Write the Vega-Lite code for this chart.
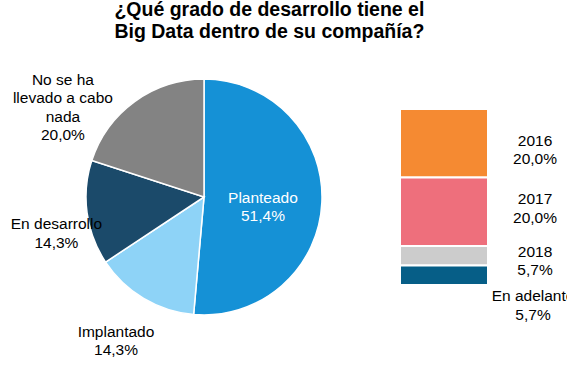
{
  "$schema": "https://vega.github.io/schema/vega-lite/v6.json",
  "padding": 0,
  "spacing": 0,
  "config": {"view": {"stroke": null}, "font": "Liberation Sans", "concat": {"spacing": 0}},
  "title": {
    "text": ["¿Qué grado de desarrollo tiene el", "Big Data dentro de su compañía?"],
    "fontSize": 19.5,
    "fontWeight": "bold",
    "color": "#000000",
    "anchor": "middle",
    "dx": -18,
    "offset": 3
  },
  "hconcat": [
    {
      "width": 390,
      "height": 304,
      "data": {"values": [
        {"cat": "Planteado", "pct": 51.4, "orden": 1, "etiqueta": "Planteado\n51,4%"},
        {"cat": "Implantado", "pct": 14.3, "orden": 2, "etiqueta": "Implantado\n14,3%"},
        {"cat": "En desarrollo", "pct": 14.3, "orden": 3, "etiqueta": "En desarrollo\n14,3%"},
        {"cat": "No se ha llevado a cabo nada", "pct": 20.0, "orden": 4, "etiqueta": "No se ha\nllevado a cabo\nnada\n20,0%"}
      ]},
      "encoding": {
        "theta": {"field": "pct", "type": "quantitative", "stack": true},
        "order": {"field": "orden", "type": "quantitative"}
      },
      "layer": [
        {
          "mark": {"type": "arc", "radius": 118, "stroke": "white", "strokeWidth": 1.5},
          "encoding": {
            "color": {
              "field": "cat",
              "type": "nominal",
              "scale": {
                "domain": ["Planteado", "Implantado", "En desarrollo", "No se ha llevado a cabo nada", "2016", "2017", "2018", "En adelante"],
                "range": ["#1591D6", "#8ED3F7", "#1B4A6A", "#838383", "#F58A32", "#EE6F7C", "#CCCCCC", "#065E87"]
              },
              "legend": null
            }
          }
        },
        {
          "mark": {"type": "text", "radius": 59, "dy": -2, "color": "white", "fontSize": 15.5, "lineBreak": "\n", "lineHeight": 18.5, "baseline": "middle", "align": "center"},
          "encoding": {
            "text": {"condition": {"test": "datum.cat === 'Planteado'", "field": "etiqueta"}, "value": ""}
          }
        },
        {
          "mark": {"type": "text", "radius": 155, "dx": -8.7, "dy": 1.8, "color": "black", "fontSize": 15.5, "lineBreak": "\n", "lineHeight": 18.5, "baseline": "middle", "align": "center"},
          "encoding": {
            "text": {"condition": {"test": "datum.cat === 'Implantado'", "field": "etiqueta"}, "value": ""}
          }
        },
        {
          "mark": {"type": "text", "radius": 155, "dx": 6, "dy": 6.2, "color": "black", "fontSize": 15.5, "lineBreak": "\n", "lineHeight": 18.5, "baseline": "middle", "align": "center"},
          "encoding": {
            "text": {"condition": {"test": "datum.cat === 'En desarrollo'", "field": "etiqueta"}, "value": ""}
          }
        },
        {
          "mark": {"type": "text", "radius": 155, "dx": -50, "dy": 8, "color": "black", "fontSize": 15.5, "lineBreak": "\n", "lineHeight": 18.5, "baseline": "middle", "align": "center"},
          "encoding": {
            "text": {"condition": {"test": "datum.cat === 'No se ha llevado a cabo nada'", "field": "etiqueta"}, "value": ""}
          }
        }
      ]
    },
    {
      "width": 88,
      "height": 304,
      "data": {"values": [
        {"padre": "Planteado", "anio": "2016", "pct": 20.0, "orden": 4, "etiqueta": "2016\n20,0%"},
        {"padre": "Planteado", "anio": "2017", "pct": 20.0, "orden": 3, "etiqueta": "2017\n20,0%"},
        {"padre": "Planteado", "anio": "2018", "pct": 5.7, "orden": 2, "etiqueta": "2018\n5,7%"},
        {"padre": "Planteado", "anio": "En adelante", "pct": 5.7, "orden": 1, "etiqueta": "En adelante\n5,7%"}
      ]},
      "encoding": {
        "x": {"field": "padre", "type": "nominal", "scale": {"paddingInner": 0, "paddingOuter": 0}, "axis": null},
        "y": {"field": "pct", "type": "quantitative", "stack": "zero", "scale": {"domain": [-18.69, 70.09], "nice": false, "zero": false}, "axis": null},
        "order": {"field": "orden", "type": "quantitative"}
      },
      "layer": [
        {
          "mark": {"type": "bar", "stroke": "white", "strokeWidth": 2},
          "encoding": {
            "color": {
              "field": "anio",
              "type": "nominal",
              "scale": {
                "domain": ["Planteado", "Implantado", "En desarrollo", "No se ha llevado a cabo nada", "2016", "2017", "2018", "En adelante"],
                "range": ["#1591D6", "#8ED3F7", "#1B4A6A", "#838383", "#F58A32", "#EE6F7C", "#CCCCCC", "#065E87"]
              },
              "legend": null
            }
          }
        },
        {
          "mark": {"type": "text", "color": "black", "fontSize": 15.5, "lineBreak": "\n", "lineHeight": 18.5, "baseline": "middle", "align": "center", "dx": 47, "dy": 32},
          "encoding": {
            "x": {"field": "padre", "type": "nominal", "bandPosition": 1},
            "detail": {"field": "anio", "type": "nominal"},
            "text": {"condition": {"test": "datum.anio === '2016'", "field": "etiqueta"}, "value": ""}
          }
        },
        {
          "mark": {"type": "text", "color": "black", "fontSize": 15.5, "lineBreak": "\n", "lineHeight": 18.5, "baseline": "middle", "align": "center", "dx": 47, "dy": 22},
          "encoding": {
            "x": {"field": "padre", "type": "nominal", "bandPosition": 1},
            "detail": {"field": "anio", "type": "nominal"},
            "text": {"condition": {"test": "datum.anio === '2017'", "field": "etiqueta"}, "value": ""}
          }
        },
        {
          "mark": {"type": "text", "color": "black", "fontSize": 15.5, "lineBreak": "\n", "lineHeight": 18.5, "baseline": "middle", "align": "center", "dx": 47, "dy": 6},
          "encoding": {
            "x": {"field": "padre", "type": "nominal", "bandPosition": 1},
            "detail": {"field": "anio", "type": "nominal"},
            "text": {"condition": {"test": "datum.anio === '2018'", "field": "etiqueta"}, "value": ""}
          }
        },
        {
          "mark": {"type": "text", "color": "black", "fontSize": 15.5, "lineBreak": "\n", "lineHeight": 18.5, "baseline": "middle", "align": "center", "dx": 45, "dy": 31},
          "encoding": {
            "x": {"field": "padre", "type": "nominal", "bandPosition": 1},
            "detail": {"field": "anio", "type": "nominal"},
            "text": {"condition": {"test": "datum.anio === 'En adelante'", "field": "etiqueta"}, "value": ""}
          }
        }
      ]
    }
  ]
}
